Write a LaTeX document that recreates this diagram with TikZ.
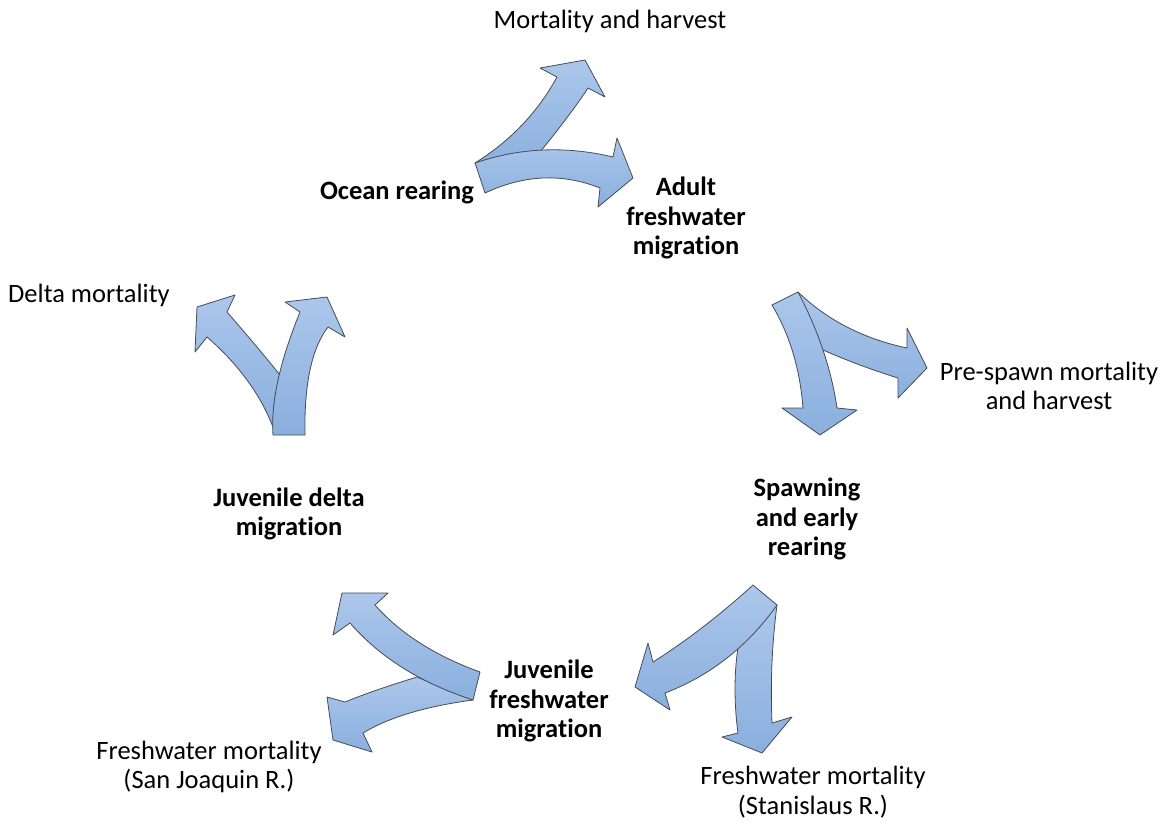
\documentclass[tikz,border=0pt]{standalone}
\usepackage{fontspec}
\setmainfont{Carlito}[Ligatures=NoCommon]
\definecolor{arrtop}{RGB}{172,199,235}
\definecolor{arrbot}{RGB}{138,175,222}
\definecolor{arredge}{RGB}{70,75,85}
\begin{document}
\begin{tikzpicture}[x=1pt,y=-1pt,
  blockarrow/.style={top color=arrtop,bottom color=arrbot,draw=arredge,line width=0.8pt,line join=round},
  lbl/.style={font=\fontsize{26.5}{29.5}\selectfont,align=center,inner sep=0pt},
  stage/.style={lbl,font=\fontsize{26.5}{29.5}\selectfont\bfseries}]
\useasboundingbox (0,0) rectangle (1167,822);
\fill[white] (0,0) rectangle (1167,822);

% top group
\path[blockarrow] (475,163) .. controls (510.3,141) and (537.7,112.3) .. (557,77) -- (540,68) -- (585,60) -- (605,97) -- (588,88) .. controls (576.7,105.3) and (560.7,126.7) .. (540,152) -- (530,172) -- (480,172) -- cycle;
\path[blockarrow] (475,163) .. controls (519.7,147.7) and (565.7,145.7) .. (613,157) -- (617,138) -- (633,178) -- (598,207) -- (600,188) .. controls (562.3,173) and (524,174.7) .. (485,193) -- cycle;

% right group
\path[blockarrow] (798,292) .. controls (827,320) and (863.3,338.7) .. (907,348) -- (907,328) -- (927,368) -- (898,398) -- (898,378) .. controls (872.3,370) and (847.3,360.7) .. (823,350) -- (808,320) -- cycle;
\path[blockarrow] (772,305) -- (798,292) .. controls (818.3,330.7) and (831.3,369.3) .. (837,408) -- (857,410) -- (820,435) -- (782,408) -- (803,408) .. controls (800,369) and (789.7,334.7) .. (772,305) -- cycle;

% bottom right group
\path[blockarrow] (777,605) .. controls (772,643) and (770.3,682.3) .. (772,723) -- (792,717) -- (762,753) -- (722,737) -- (738,733) .. controls (734,704) and (734,673) .. (738,648) -- (755,620) -- cycle;
\path[blockarrow] (753,585) -- (777,605) .. controls (747.7,646.3) and (710.3,675.7) .. (665,693) -- (670,710) -- (635,687) -- (648,643) -- (653,662) .. controls (686.3,641) and (719.7,615.3) .. (753,585) -- cycle;

% bottom left group
\path[blockarrow] (417,677) .. controls (387.7,686) and (363.7,694.3) .. (345,702) -- (327,697) -- (333,740) -- (372,752) -- (363,733) .. controls (389,717.3) and (425.7,706.3) .. (473,700) -- cycle;
\path[blockarrow] (480,672) -- (473,700) .. controls (420.7,683) and (379.7,657.3) .. (350,623) -- (333,635) -- (342,593) -- (388,593) -- (375,605) .. controls (400,633.3) and (435,655.7) .. (480,672) -- cycle;

% left group
\path[blockarrow] (280,375) .. controls (267,358.7) and (249.3,337.7) .. (227,312) -- (235,295) -- (197,307) -- (195,352) -- (207,337) .. controls (238.3,364.3) and (260.3,394.3) .. (273,427) -- (288,420) -- cycle;
\path[blockarrow] (273,435) -- (305,435) .. controls (304,384.3) and (311.7,348.3) .. (328,327) -- (345,337) -- (327,297) -- (285,302) -- (300,312) .. controls (279.7,361.7) and (270.7,402.7) .. (273,435) -- cycle;

% labels
\node[lbl] (mh) at (610,21) {Mortality and harvest};
\node[stage] (ocean) at (397,192) {Ocean rearing};
\node[stage] (adult) at (686,218) {Adult\\freshwater\\migration};
\node[lbl,anchor=west] (delta) at (8,295) {Delta mortality};
\node[lbl] (prespawn) at (1049,386) {Pre-spawn mortality\\and harvest};
\node[stage] (juvdelta) at (289,514) {Juvenile delta\\migration};
\node[stage] (spawn) at (807,519) {Spawning\\and early\\rearing};
\node[stage] (juvfw) at (549,701) {Juvenile\\freshwater\\migration};
\node[lbl] (sj) at (209,767) {Freshwater mortality\\(San Joaquin R.)};
\node[lbl] (stan) at (813,792) {Freshwater mortality\\(Stanislaus R.)};
\end{tikzpicture}
\end{document}
